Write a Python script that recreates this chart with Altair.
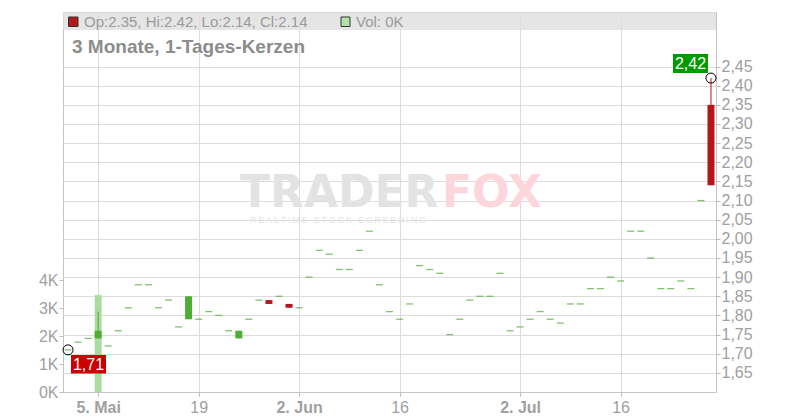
import altair as alt
import pandas as pd

# ---------------- data ----------------
dates = pd.bdate_range("2025-04-30", periods=65).strftime("%Y-%m-%d").tolist()

opens = [1.71, 1.73, 1.74, 1.74, 1.72, 1.76, 1.82, 1.88, 1.88, 1.82,
         1.84, 1.77, 1.79, 1.79, 1.81, 1.80, 1.76, 1.74, 1.79, 1.84,
         1.84, 1.85, 1.83, 1.82, 1.90, 1.97, 1.96, 1.92, 1.92, 1.97,
         2.02, 1.88, 1.81, 1.79, 1.83, 1.93, 1.92, 1.91, 1.75, 1.79,
         1.84, 1.85, 1.85, 1.91, 1.76, 1.77, 1.79, 1.81, 1.79, 1.78,
         1.83, 1.83, 1.87, 1.87, 1.90, 1.89, 2.02, 2.02, 1.95, 1.87,
         1.87, 1.89, 1.87, 2.10, 2.35]
highs = [1.71, 1.73, 1.74, 1.81, 1.72, 1.76, 1.82, 1.88, 1.88, 1.82,
         1.84, 1.77, 1.85, 1.79, 1.81, 1.80, 1.76, 1.76, 1.79, 1.84,
         1.84, 1.85, 1.83, 1.82, 1.90, 1.97, 1.96, 1.92, 1.92, 1.97,
         2.02, 1.88, 1.81, 1.79, 1.83, 1.93, 1.92, 1.91, 1.75, 1.79,
         1.84, 1.85, 1.85, 1.91, 1.76, 1.77, 1.79, 1.81, 1.79, 1.78,
         1.83, 1.83, 1.87, 1.87, 1.90, 1.89, 2.02, 2.02, 1.95, 1.87,
         1.87, 1.89, 1.87, 2.10, 2.42]
lows = [1.71, 1.73, 1.74, 1.74, 1.72, 1.76, 1.82, 1.88, 1.88, 1.82,
        1.84, 1.77, 1.79, 1.79, 1.81, 1.80, 1.76, 1.74, 1.79, 1.84,
        1.83, 1.85, 1.82, 1.82, 1.90, 1.97, 1.96, 1.92, 1.92, 1.97,
        2.02, 1.88, 1.81, 1.79, 1.83, 1.93, 1.92, 1.91, 1.75, 1.79,
        1.84, 1.85, 1.85, 1.91, 1.76, 1.77, 1.79, 1.81, 1.79, 1.78,
        1.83, 1.83, 1.87, 1.87, 1.90, 1.89, 2.02, 2.02, 1.95, 1.87,
        1.87, 1.89, 1.87, 2.10, 2.14]
closes = [1.71, 1.73, 1.74, 1.76, 1.72, 1.76, 1.82, 1.88, 1.88, 1.82,
          1.84, 1.77, 1.85, 1.79, 1.81, 1.80, 1.76, 1.76, 1.79, 1.84,
          1.83, 1.85, 1.82, 1.82, 1.90, 1.97, 1.96, 1.92, 1.92, 1.97,
          2.02, 1.88, 1.81, 1.79, 1.83, 1.93, 1.92, 1.91, 1.75, 1.79,
          1.84, 1.85, 1.85, 1.91, 1.76, 1.77, 1.79, 1.81, 1.79, 1.78,
          1.83, 1.83, 1.87, 1.87, 1.90, 1.89, 2.02, 2.02, 1.95, 1.87,
          1.87, 1.89, 1.87, 2.10, 2.14]
volumes = [0, 0, 0, 3470, 0, 0, 0, 0, 0, 0,
           0, 0, 0, 0, 0, 0, 0, 0, 0, 0,
           0, 0, 0, 0, 0, 0, 0, 0, 0, 0,
           0, 0, 0, 0, 0, 0, 0, 0, 0, 0,
           0, 0, 0, 0, 0, 0, 0, 0, 0, 0,
           0, 0, 0, 0, 0, 0, 0, 0, 0, 0,
           0, 0, 0, 0, 0]

tick_dates = ["2025-05-05", "2025-05-19", "2025-06-02", "2025-06-16", "2025-07-02", "2025-07-16"]
tick_labels = ["5. Mai", "19", "2. Jun", "16", "2. Jul", "16"]
bold_labels = ["5. Mai", "2. Jun", "2. Jul"]
price_ticks = [1.65, 1.70, 1.75, 1.80, 1.85, 1.90, 1.95, 2.00, 2.05,
               2.10, 2.15, 2.20, 2.25, 2.30, 2.35, 2.40, 2.45]
vol_ticks = [0, 1000, 2000, 3000, 4000]

title_text = "3 Monate, 1-Tages-Kerzen"
watermark_sub = "REALTIME STOCK SCREENING"

# ---------------- tables ----------------
def direction(o, c):
    if c > o:
        return "up"
    if c < o:
        return "down"
    return "flat"

df = pd.DataFrame({
    "i": list(range(len(dates))),
    "date": dates,
    "open": opens, "high": highs, "low": lows, "close": closes,
    "vol": volumes,
    "dir": [direction(o, c) for o, c in zip(opens, closes)],
})

tick_idx = [dates.index(d) for d in tick_dates]
bold_idx = [tick_idx[tick_labels.index(b)] for b in bold_labels]

def fmt(v):
    return f"{v:.2f}".replace(".", ",")

first_ann = pd.DataFrame({"i": [0], "p": [closes[0]], "lab": [fmt(closes[0])]})
last_ann = pd.DataFrame({"i": [len(dates) - 1], "p": [highs[-1]], "lab": [fmt(highs[-1])]})

header_text = f"Op:{opens[-1]:.2f}, Hi:{highs[-1]:.2f}, Lo:{lows[-1]:.2f}, Cl:{closes[-1]:.2f}"
vol_text = f"Vol: {volumes[-1] // 1000}K"
spaced_sub = "\u2009".join(watermark_sub.replace(" ", "\u00a0"))

# ---------------- scales / axes ----------------
W, H = 653, 380
GRAY = "#a0a0a0"
GRID = "#dcdcdc"

xs = alt.Scale(domain=[-0.5, len(dates) - 0.5], nice=False, zero=False, padding=0)
ps = alt.Scale(domain=[1.6, 2.5925], nice=False, zero=False, padding=0)
vs = alt.Scale(domain=[0, 13600], nice=False, zero=True, padding=0)

label_expr = " : ".join(f"datum.value == {i} ? '{t}'" for i, t in zip(tick_idx, tick_labels)) + " : ''"
bold_test = " || ".join(f"datum.value == {i}" for i in bold_idx)

x_axis = alt.Axis(values=tick_idx, labelExpr=label_expr, grid=True, gridColor=GRID,
                  tickColor="#bbbbbb", tickSize=4, domain=False, labelColor=GRAY,
                  labelFontSize=16, labelPadding=3, title=None, labelFlush=False,
                  labelFontWeight={"condition": {"test": bold_test, "value": "bold"}, "value": "normal"})
price_axis = alt.Axis(orient="right", values=price_ticks,
                      labelExpr="replace(format(datum.value, '.2f'), '.', ',')",
                      grid=True, gridColor=GRID, tickColor="#bbbbbb", tickSize=4, domain=False,
                      labelColor=GRAY, labelFontSize=16, labelPadding=1, title=None)
vol_axis = alt.Axis(orient="left", values=vol_ticks, labelExpr="(datum.value / 1000) + 'K'",
                    grid=False, tickColor="#bbbbbb", tickSize=4, domain=False,
                    labelColor=GRAY, labelFontSize=16, labelPadding=1, title=None)

enc_x = alt.X("i:Q", scale=xs, axis=x_axis)
color_enc = alt.Color("dir:N", scale=alt.Scale(domain=["up", "down", "flat"],
                                               range=["#4cae34", "#b4161b", "#4aaa32"]), legend=None)

base = alt.Chart(df)

vol = base.transform_filter("datum.vol > 0").mark_bar(width=7, color="#aadca0").encode(
    x=enc_x, y=alt.Y("vol:Q", scale=vs, axis=vol_axis))

one = alt.Chart(pd.DataFrame({"k": [0]}))
header_rect = one.mark_rect(color="#dedede", opacity=0.8).encode(
    x=alt.value(0), x2=alt.value(W), y=alt.value(0), y2=alt.value(18))
wm_trader = one.mark_text(text="TRADER", font="DejaVu Sans", fontWeight="bold", fontSize=44,
                          color="#e3e3e3", align="left", baseline="alphabetic").encode(
    x=alt.value(177), y=alt.value(194.5))
wm_fox = one.mark_text(text="FOX", font="DejaVu Sans", fontWeight="bold", fontSize=44,
                       color="#fcd6da", align="left", baseline="alphabetic").encode(
    x=alt.value(379), y=alt.value(194.5))
wm_sub = one.mark_text(text=spaced_sub, fontSize=9, color="#e3e3e3", align="left",
                       baseline="alphabetic").encode(x=alt.value(187), y=alt.value(211))
title = one.mark_text(text=title_text, fontSize=19, fontWeight="bold", color="#8c8c8c",
                      align="left", baseline="alphabetic").encode(x=alt.value(9), y=alt.value(41))
hdr_sq1 = one.mark_rect(color="#b31b1b", stroke="#333333", strokeWidth=1).encode(
    x=alt.value(5.5), x2=alt.value(15), y=alt.value(5), y2=alt.value(14.5))
hdr_txt1 = one.mark_text(text=header_text, fontSize=15, color="#9a9a9a", align="left",
                         baseline="middle").encode(x=alt.value(21), y=alt.value(10))
hdr_sq2 = one.mark_rect(color="#b4e0ac", stroke="#333333", strokeWidth=1).encode(
    x=alt.value(278), x2=alt.value(287), y=alt.value(5), y2=alt.value(14.5))
hdr_txt2 = one.mark_text(text=vol_text, fontSize=15, color="#9a9a9a", align="left",
                         baseline="middle").encode(x=alt.value(293), y=alt.value(10))

wick = base.transform_filter("datum.high > datum.low").mark_rule(strokeWidth=1).encode(
    x=enc_x, y=alt.Y("low:Q", scale=ps, axis=price_axis), y2="high:Q", color=color_enc)
dash = base.transform_filter("datum.dir == 'flat'").mark_tick(orient="horizontal", size=7, thickness=1.3).encode(
    x=enc_x, y=alt.Y("close:Q", scale=ps, axis=price_axis), color=color_enc)
body = base.transform_filter("datum.dir != 'flat'").mark_bar(width=7).encode(
    x=enc_x, y=alt.Y("open:Q", scale=ps, axis=price_axis), y2="close:Q", color=color_enc)

def annotation(data, fill, x_off, x2_off, y_off, y2_off):
    c = alt.Chart(data)
    pt = c.mark_point(shape="circle", size=100, filled=False, color="black", strokeWidth=1, opacity=1).encode(
        x=enc_x, y=alt.Y("p:Q", scale=ps, axis=price_axis))
    box = c.mark_rect(color=fill, xOffset=x_off, x2Offset=x2_off, yOffset=y_off, y2Offset=y2_off).encode(
        x=enc_x, x2="i:Q", y=alt.Y("p:Q", scale=ps, axis=price_axis), y2="p:Q")
    txt = c.mark_text(color="white", fontSize=16, align="center", baseline="middle",
                      dx=(x_off + x2_off) / 2, dy=(y_off + y2_off) / 2 + 0.5).encode(
        x=enc_x, y=alt.Y("p:Q", scale=ps, axis=price_axis), text="lab:N")
    return [pt, box, txt]

price = alt.layer(header_rect, wm_trader, wm_fox, wm_sub, title, hdr_sq1, hdr_txt1, hdr_sq2, hdr_txt2,
                  wick, dash, body,
                  *annotation(first_ann, "#cc0000", 3, 38, 5, 23.5),
                  *annotation(last_ann, "#009900", -38, -3, -24, -5))

chart = alt.layer(vol, price).resolve_scale(y="independent").properties(
    width=W, height=H,
    padding={"left": 55, "top": 4, "right": 76, "bottom": 26},
    autosize=alt.AutoSizeParams(type="none"),
).configure(font="Liberation Sans").configure_view(stroke="#c4c4c4", strokeWidth=1)

chart.save("out.html", embed_options={"renderer": "svg", "actions": False})
